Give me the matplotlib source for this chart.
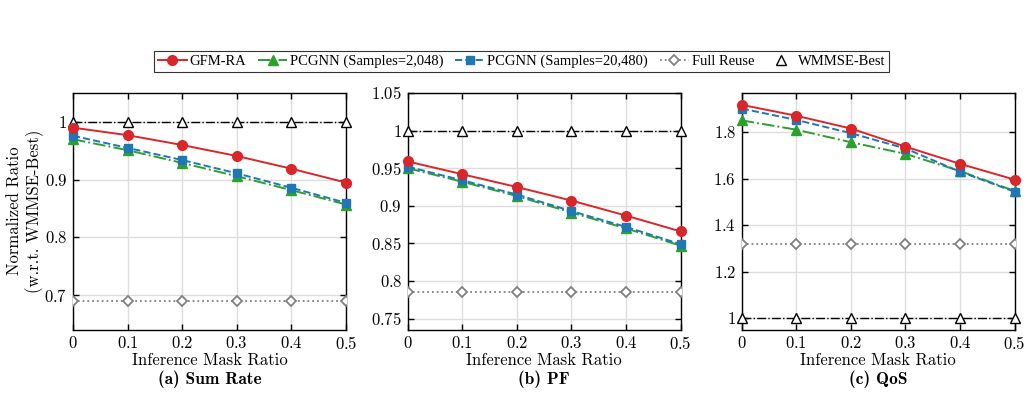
import matplotlib
matplotlib.use("Agg")
import matplotlib.pyplot as plt
from matplotlib.lines import Line2D

plt.rcParams['font.family'] = ['Liberation Serif', 'DejaVu Serif']
plt.rcParams['mathtext.fontset'] = 'cm'
plt.rcParams['axes.formatter.use_mathtext'] = True

mask_ratio = [0, 0.1, 0.2, 0.3, 0.4, 0.5]
xtick_labels = ['0', '0.1', '0.2', '0.3', '0.4', '0.5']

# (a) Sum Rate
sr_gfm = [0.990, 0.977, 0.960, 0.941, 0.919, 0.895]
sr_pc2048 = [0.970, 0.951, 0.929, 0.906, 0.882, 0.857]
sr_pc20480 = [0.976, 0.955, 0.934, 0.911, 0.886, 0.860]
sr_reuse = [0.690, 0.690, 0.690, 0.690, 0.690, 0.690]
sr_wmmse = [1.0, 1.0, 1.0, 1.0, 1.0, 1.0]

# (b) PF
pf_gfm = [0.959, 0.942, 0.925, 0.907, 0.887, 0.866]
pf_pc2048 = [0.950, 0.932, 0.913, 0.891, 0.870, 0.847]
pf_pc20480 = [0.952, 0.934, 0.915, 0.893, 0.872, 0.849]
pf_reuse = [0.786, 0.786, 0.786, 0.786, 0.786, 0.786]
pf_wmmse = [1.0, 1.0, 1.0, 1.0, 1.0, 1.0]

# (c) QoS
qos_gfm = [1.919, 1.872, 1.817, 1.739, 1.665, 1.597]
qos_pc2048 = [1.852, 1.812, 1.758, 1.708, 1.634, 1.548]
qos_pc20480 = [1.903, 1.854, 1.797, 1.731, 1.631, 1.545]
qos_reuse = [1.322, 1.322, 1.322, 1.322, 1.322, 1.322]
qos_wmmse = [1.0, 1.0, 1.0, 1.0, 1.0, 1.0]

panels = [
    ('(a) Sum Rate', sr_gfm, sr_pc2048, sr_pc20480, sr_reuse, sr_wmmse,
     (0.64, 1.05), [0.7, 0.8, 0.9, 1.0], ['0.7', '0.8', '0.9', '1']),
    ('(b) PF', pf_gfm, pf_pc2048, pf_pc20480, pf_reuse, pf_wmmse,
     (0.735, 1.05), [0.75, 0.8, 0.85, 0.9, 0.95, 1.0, 1.05],
     ['0.75', '0.8', '0.85', '0.9', '0.95', '1', '1.05']),
    ('(c) QoS', qos_gfm, qos_pc2048, qos_pc20480, qos_reuse, qos_wmmse,
     (0.95, 1.97), [1.0, 1.2, 1.4, 1.6, 1.8], ['1', '1.2', '1.4', '1.6', '1.8']),
]

RED = '#d9262b'
GREEN = '#2ca02c'
BLUE = '#1f77b4'
GRAY = '#808080'

fig = plt.figure(figsize=(10.29, 3.95), dpi=100)
lefts = [0.0709, 0.3962, 0.7208]
for i, (title, gfm, pc1, pc2, reuse, wm, ylim, yt, ytl) in enumerate(panels):
    ax = fig.add_axes([lefts[i], 0.1646, 0.2653, 0.600])
    ax.plot(mask_ratio, reuse, linestyle=':', color=GRAY, lw=1.3, marker='D',
            ms=5, mfc='white', mec=GRAY, mew=1.3, zorder=3)
    ax.plot(mask_ratio, wm, linestyle='-.', color='black', lw=1.0, marker='^',
            ms=7.5, mfc='white', mec='black', mew=1.0, zorder=3, clip_on=False)
    ax.plot(mask_ratio, pc1, linestyle='-.', color=GREEN, lw=1.4, marker='^',
            ms=7, mfc=GREEN, mec=GREEN, zorder=4, clip_on=False)
    ax.plot(mask_ratio, pc2, linestyle='--', color=BLUE, lw=1.4, marker='s',
            ms=6, mfc=BLUE, mec=BLUE, zorder=5, clip_on=False)
    ax.plot(mask_ratio, gfm, linestyle='-', color=RED, lw=1.4, marker='o',
            ms=7, mfc=RED, mec=RED, zorder=6, clip_on=False)
    ax.set_xlim(0, 0.5)
    ax.set_ylim(*ylim)
    ax.set_xticks(mask_ratio)
    ax.set_xticklabels(['$' + t + '$' for t in xtick_labels], fontsize=12)
    ax.set_yticks(yt)
    ax.set_yticklabels(['$' + t + '$' for t in ytl], fontsize=12)
    ax.tick_params(direction='in', top=True, right=True, length=4, width=1, pad=4)
    ax.grid(True, color='#dddddd', lw=1.0)
    ax.set_axisbelow(True)
    for s in ax.spines.values():
        s.set_linewidth(1.0)
    ax.text(0.5, -0.128, 'Inference Mask Ratio', transform=ax.transAxes,
            ha='center', va='center', fontsize=12, family='cmr10')
    ax.text(0.5, -0.208, title, transform=ax.transAxes,
            ha='center', va='center', fontsize=12.5, family='cmb10')

fig.text(14 / 1029, 1 - 211 / 395, 'Normalized Ratio', rotation=90,
         ha='center', va='center', fontsize=12, family='cmr10')
fig.text(35 / 1029, 1 - 211 / 395, '(w.r.t. WMMSE-Best)',
         rotation=90, ha='center', va='center', fontsize=12, family='cmr10')

handles = [
    Line2D([], [], color=RED, ls='-', lw=1.4, marker='o', ms=7, mfc=RED, mec=RED),
    Line2D([], [], color=GREEN, ls='-.', lw=1.4, marker='^', ms=7, mfc=GREEN, mec=GREEN),
    Line2D([], [], color=BLUE, ls='--', lw=1.4, marker='s', ms=6, mfc=BLUE, mec=BLUE),
    Line2D([], [], color=GRAY, ls=':', lw=1.3, marker='D', ms=5, mfc='white', mec=GRAY, mew=1.3),
    Line2D([], [], color='none', ls='none', marker='^', ms=7, mfc='white', mec='black', mew=1.0),
]
labels = ['GFM-RA', 'PCGNN (Samples=2,048)', 'PCGNN (Samples=20,480)',
          'Full Reuse', 'WMMSE-Best']
leg = fig.legend(handles, labels, loc='center', bbox_to_anchor=(0.507, 0.845),
                 ncol=5, frameon=True, fancybox=False, fontsize=10.5,
                 handlelength=2.0, handletextpad=0.2, columnspacing=0.8,
                 borderpad=0.25, edgecolor='black')
leg.get_frame().set_linewidth(0.8)

fig.savefig('out.png', dpi=100)
